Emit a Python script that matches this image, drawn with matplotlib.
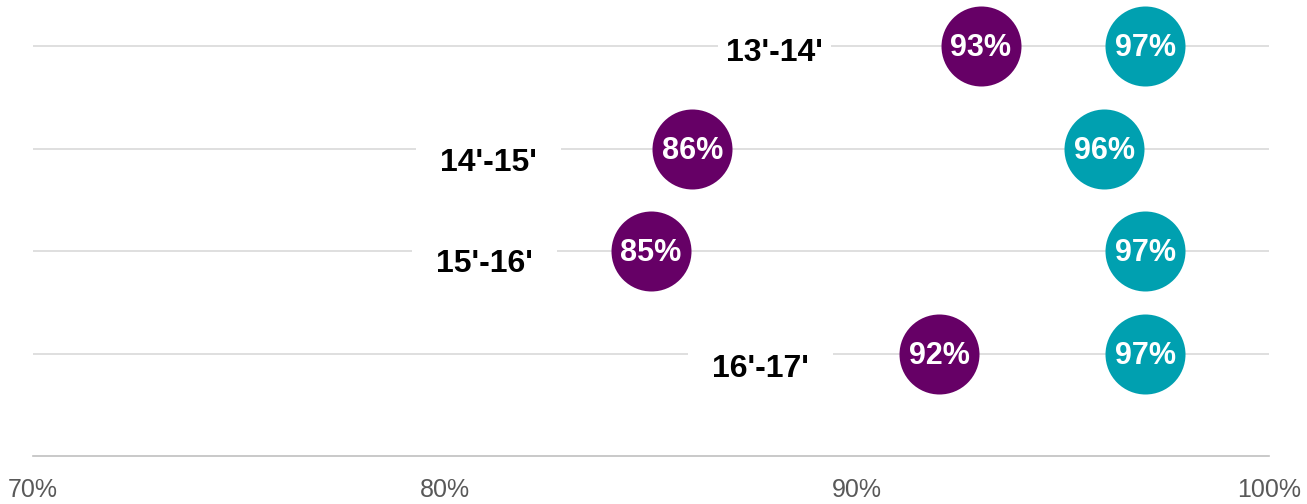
import matplotlib.pyplot as plt

# Data
periods = ["13'-14'", "14'-15'", "15'-16'", "16'-17'"]
first_vals = [93, 86, 85, 92]
second_vals = [97, 96, 97, 97]
x_ticks = [70, 80, 90, 100]

# where the period labels sit (x in axis units, y offset in pixels below the line)
label_x = [88.0, 81.05, 80.95, 87.65]
label_dy = [4, 12, 10, 13]
label_pad = [0.25, 0.75, 0.75, 0.75]

purple = "#660066"
teal = "#00a0b0"

plt.rcParams["font.family"] = ["Liberation Sans", "DejaVu Sans"]

fig = plt.figure(figsize=(13.07, 5.04), dpi=100)
ax = fig.add_axes([33 / 1307, 1 - 456 / 504, (1269 - 33) / 1307, 456 / 504])

rows = list(range(len(periods)))

# grid lines per row
for r in rows:
    ax.axhline(r, color="#d9d9d9", lw=1.2, zorder=1)

ax.plot(first_vals, rows, "o", ms=57.6, color=purple, mec="none", zorder=3)
ax.plot(second_vals, rows, "o", ms=57.6, color=teal, mec="none", zorder=3)

for r, v1, v2 in zip(rows, first_vals, second_vals):
    for v in (v1, v2):
        ax.annotate(f"{v}%", (v, r), xytext=(0, -1.5), textcoords="offset points",
                    ha="center", va="center", color="white",
                    fontsize=22, fontweight="bold", zorder=4)

for r, name, lx, dy, pad in zip(rows, periods, label_x, label_dy, label_pad):
    ax.annotate(name, (lx, r), xytext=(0, -dy * 0.72 - 2), textcoords="offset points",
                ha="center", va="center", color="black",
                fontsize=23, fontweight="bold", zorder=2,
                bbox=dict(boxstyle=f"square,pad={pad}", fc="white", ec="none"))

ax.set_xlim(70, 100)
ax.set_ylim(4, -0.45)
ax.set_xticks(x_ticks)
ax.set_xticklabels([f"{t}%" for t in x_ticks])
ax.set_yticks([])
ax.tick_params(axis="x", length=0, pad=16, labelsize=18, labelcolor="#595959")

for s in ["top", "left", "right"]:
    ax.spines[s].set_visible(False)
ax.spines["bottom"].set_color("#c0c0c0")
ax.spines["bottom"].set_linewidth(1.2)

fig.savefig("out.png", dpi=100)
